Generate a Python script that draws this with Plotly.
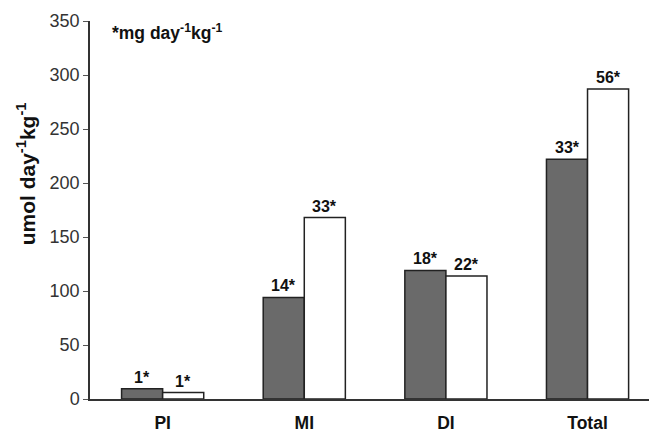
import plotly.graph_objects as go

categories = ["PI", "MI", "DI", "Total"]
dark_values = [9.5, 94, 119, 222]
white_values = [6, 168, 114, 287]
dark_labels = ["1*", "14*", "18*", "33*"]
white_labels = ["1*", "33*", "22*", "56*"]
y_ticks = [0, 50, 100, 150, 200, 250, 300, 350]

FONT = "Liberation Sans, Arial, sans-serif"
LABEL_FONT = dict(family=FONT, size=16, color="#111111")

fig = go.Figure()
fig.add_trace(go.Bar(
    x=categories, y=dark_values,
    marker=dict(color="#6a6a6a", line=dict(color="#222222", width=1.5)),
    showlegend=False,
))
fig.add_trace(go.Bar(
    x=categories, y=white_values,
    marker=dict(color="#ffffff", line=dict(color="#222222", width=1.5)),
    showlegend=False,
))

# value labels above each bar (offset to each bar of the group)
for i, cat in enumerate(categories):
    fig.add_annotation(x=i, y=dark_values[i], text="<b>" + dark_labels[i] + "</b>",
                       xshift=-20.5, yanchor="bottom", yshift=1, showarrow=False,
                       font=LABEL_FONT)
    fig.add_annotation(x=i, y=white_values[i], text="<b>" + white_labels[i] + "</b>",
                       xshift=20.5, yanchor="bottom", yshift=1, showarrow=False,
                       font=LABEL_FONT)

fig.update_layout(
    width=649, height=433,
    margin=dict(l=90, r=0, t=21, b=34),
    paper_bgcolor="white", plot_bgcolor="white",
    barmode="group", bargap=0.42, bargroupgap=0,
    font=dict(family=FONT, color="#222222"),
)
fig.update_xaxes(
    range=[-0.513, 3.434], showline=True, linecolor="#333333", linewidth=1.5,
    ticks="", tickfont=dict(family=FONT, size=17.5, color="#111111"),
    tickvals=[0, 1, 2, 3], ticktext=["<b>" + c + "</b>" for c in categories],
    ticklabelstandoff=7,
)
fig.update_yaxes(
    range=[0, 350], tickvals=y_ticks, showline=True, linecolor="#333333",
    linewidth=1.5, ticks="outside", ticklen=5, tickcolor="#555555",
    tickfont=dict(family=FONT, size=18, color="#333333"), showgrid=False,
    zeroline=False,
)

fig.add_annotation(
    text="<b>umol day<sup>-1</sup>kg<sup>-1</sup></b>", textangle=-90,
    xref="paper", yref="paper", x=-0.114, y=0.595, xanchor="center", yanchor="middle",
    showarrow=False, font=dict(family=FONT, size=21, color="#111111"),
)
fig.add_annotation(
    text="<b>*mg day<sup>-1</sup>kg<sup>-1</sup></b>",
    xref="paper", yref="paper", x=0.035, y=0.97, xanchor="left", yanchor="middle",
    showarrow=False, font=dict(family=FONT, size=17.5, color="#111111"),
)

fig.write_html("out.html")
